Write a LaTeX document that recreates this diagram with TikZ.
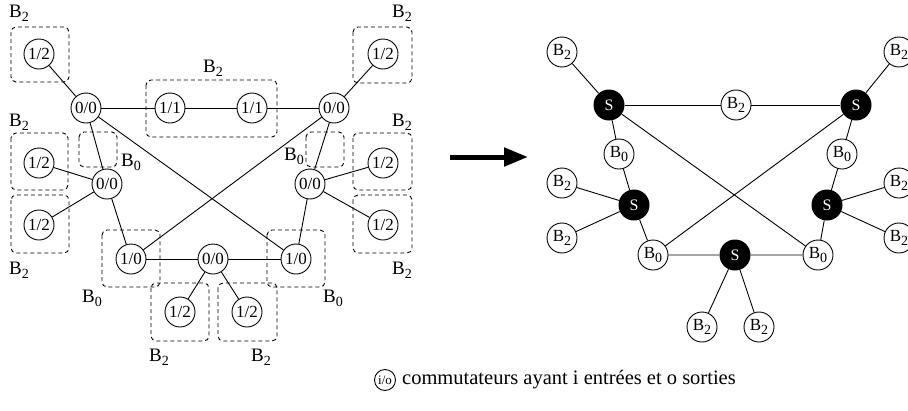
\documentclass[tikz,border=0pt]{standalone}
\usepackage{fontspec}
\setmainfont{Liberation Serif}
\usetikzlibrary{arrows.meta,positioning}
\newcommand{\bloc}[1]{B\raisebox{-0.45ex}{\fontsize{14}{15}\selectfont #1}}

\begin{document}
\begin{tikzpicture}[x=1pt,y=-1pt]

      \tikzstyle{sw}=[circle,draw,line width=0.9pt,minimum size=30pt,
        inner sep=0pt,font=\fontsize{17}{18}\selectfont]
      \tikzstyle{hub}=[circle,fill=black,minimum size=31pt,inner sep=0pt,
        text=white,font=\fontsize{16}{17}\selectfont]
      \tikzstyle{grp}=[draw,line width=0.9pt,dash pattern=on 4pt off 3pt,
        rounded corners=5pt]
      \tikzstyle{lbl}=[inner sep=0pt,font=\fontsize{19}{20}\selectfont]
      \tikzstyle{link}=[line width=0.9pt]

      \useasboundingbox (0,0) rectangle (908,410);

      % left network
      \node(TL12)[sw] at (39,54){1/2};
      \node(TLsw)[sw] at (86,108){0/0};
      \node(Mid11a)[sw] at (170,108){1/1};
      \node(Mid11b)[sw] at (252,108){1/1};
      \node(TRsw)[sw] at (334,108){0/0};
      \node(TR12)[sw] at (383,54){1/2};

      \node(ML12a)[sw] at (39,163){1/2};
      \node(MLsw)[sw] at (107,184){0/0};
      \node(ML12b)[sw] at (39,225){1/2};
      \node(MR12a)[sw] at (383,163){1/2};
      \node(MRsw)[sw] at (310,184){0/0};
      \node(MR12b)[sw] at (383,225){1/2};

      \node(BL10)[sw] at (131,259){1/0};
      \node(Bsw)[sw] at (213,259){0/0};
      \node(BR10)[sw] at (296,259){1/0};
      \node(B12a)[sw] at (180,312){1/2};
      \node(B12b)[sw] at (247,312){1/2};

      \draw[grp] (11,27) rectangle (69,82);
      \draw[grp] (146,80) rectangle (277,137);
      \draw[grp] (353,27) rectangle (412,83);
      \draw[grp] (11,133) rectangle (68,190);
      \draw[grp] (11,195) rectangle (69,253);
      \draw[grp] (353,133) rectangle (412,190);
      \draw[grp] (353,195) rectangle (412,253);
      \draw[grp] (79,132) rectangle (117,167);
      \draw[grp] (306,132) rectangle (344,167);
      \draw[grp] (102,230) rectangle (160,287);
      \draw[grp] (267,230) rectangle (325,287);
      \draw[grp] (151,283) rectangle (209,341);
      \draw[grp] (218,283) rectangle (277,341);

      \node(LabTL)[lbl] at (19,13){\bloc{2}};
      \node(LabMid)[lbl] at (213,68){\bloc{2}};
      \node(LabTR)[lbl] at (402,13){\bloc{2}};
      \node(LabML1)[lbl] at (19,122){\bloc{2}};
      \node(LabML2)[lbl] at (19,270){\bloc{2}};
      \node(LabMR1)[lbl] at (402,122){\bloc{2}};
      \node(LabMR2)[lbl] at (402,270){\bloc{2}};
      \node(LabB0L)[lbl] at (131,162){\bloc{0}};
      \node(LabB0R)[lbl] at (294,156){\bloc{0}};
      \node(LabBL)[lbl] at (92,298){\bloc{0}};
      \node(LabBR)[lbl] at (333,298){\bloc{0}};
      \node(LabB1)[lbl] at (159,357){\bloc{2}};
      \node(LabB2)[lbl] at (261,357){\bloc{2}};

      \draw[link] (TLsw)--(TL12);
      \draw[link] (TLsw)--(Mid11a)--(Mid11b)--(TRsw);
      \draw[link] (TRsw)--(TR12);
      \draw[link] (TLsw)--(MLsw);
      \draw[link] (TRsw)--(MRsw);
      \draw[link] (TLsw)--(BR10);
      \draw[link] (TRsw)--(BL10);
      \draw[link] (MLsw)--(ML12a);
      \draw[link] (MLsw)--(ML12b);
      \draw[link] (MLsw)--(BL10);
      \draw[link] (MRsw)--(MR12a);
      \draw[link] (MRsw)--(MR12b);
      \draw[link] (MRsw)--(BR10);
      \draw[link] (BL10)--(Bsw)--(BR10);
      \draw[link] (Bsw)--(B12a);
      \draw[link] (Bsw)--(B12b);

      % arrow
      \coordinate(ArrowStart) at (450,157);
      \coordinate(ArrowEnd) at (528,157);
      \draw[line width=5pt,-{Triangle[length=24pt,width=18pt]}]
      (ArrowStart)--(ArrowEnd);

      % right network
      \node(rB2a)[sw] at (562,52){\bloc{2}};
      \node(rS1)[hub] at (609,105){S};
      \node(rB2m)[sw] at (736,105){\bloc{2}};
      \node(rS2)[hub] at (856,105){S};
      \node(rB2b)[sw] at (899,52){\bloc{2}};
      \node(rB0a)[sw] at (619,154){\bloc{0}};
      \node(rB2c)[sw] at (562,183){\bloc{2}};
      \node(rS3)[hub] at (634,205){S};
      \node(rB2d)[sw] at (562,238){\bloc{2}};
      \node(rB0b)[sw] at (653,255){\bloc{0}};
      \node(rS4)[hub] at (735,255){S};
      \node(rB0c)[sw] at (818,255){\bloc{0}};
      \node(rS5)[hub] at (827,205){S};
      \node(rB0d)[sw] at (842,154){\bloc{0}};
      \node(rB2e)[sw] at (899,183){\bloc{2}};
      \node(rB2f)[sw] at (899,238){\bloc{2}};
      \node(rB2g)[sw] at (702,327){\bloc{2}};
      \node(rB2h)[sw] at (759,327){\bloc{2}};

      \draw[link] (rS1)--(rB2a);
      \draw[link] (rS1)--(rB2m)--(rS2);
      \draw[link] (rS2)--(rB2b);
      \draw[link] (rS1)--(rB0a)--(rS3);
      \draw[link] (rS3)--(rB2c);
      \draw[link] (rS3)--(rB2d);
      \draw[link] (rS3)--(rB0b)--(rS4)--(rB0c)--(rS5);
      \draw[link] (rS5)--(rB0d)--(rS2);
      \draw[link] (rS5)--(rB2e);
      \draw[link] (rS5)--(rB2f);
      \draw[link] (rS4)--(rB2g);
      \draw[link] (rS4)--(rB2h);
      \draw[link] (rS1)--(rB0c);
      \draw[link] (rS2)--(rB0b);

      % legend
      \node(Key)[circle,draw,line width=0.9pt,minimum size=21pt,
        inner sep=0pt,font=\fontsize{13}{14}\selectfont] at (385,380){i/o};
      \node(KeyText)[right=6pt of Key,inner sep=0pt,
        font=\fontsize{20.5}{22}\selectfont]{commutateurs ayant i entrées et o sorties};

    \end{tikzpicture}
\end{document}
